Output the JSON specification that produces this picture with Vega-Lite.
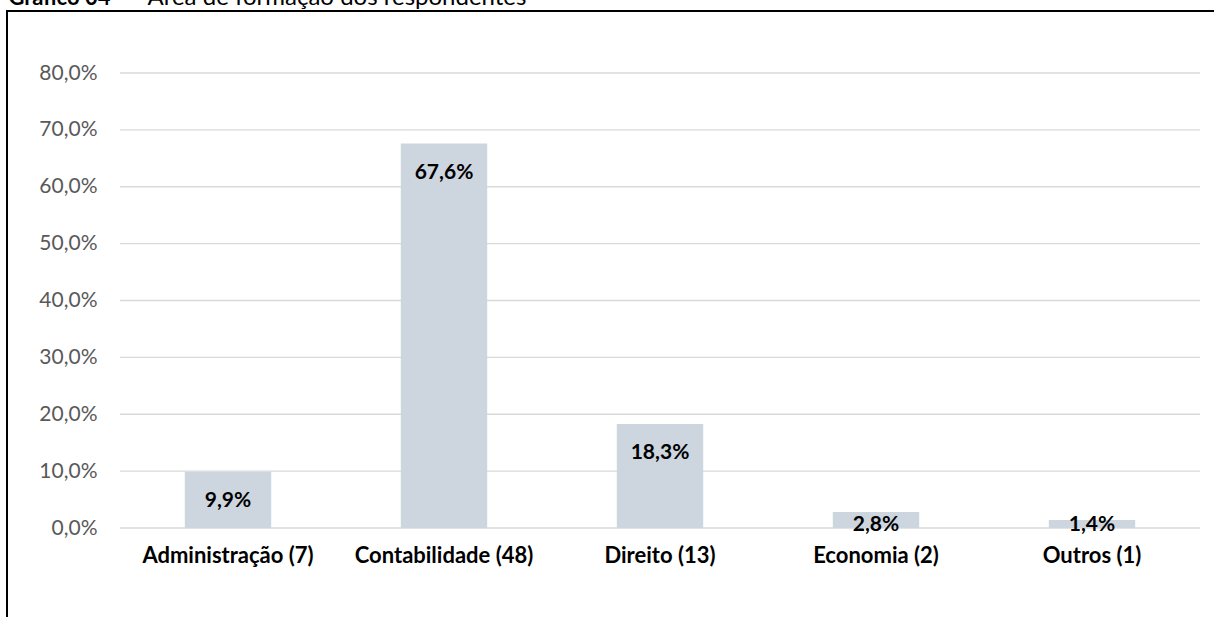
{
  "$schema": "https://vega.github.io/schema/vega-lite/v6.json",
  "autosize": {"type": "none"},
  "padding": {"left": 7, "top": 11, "right": 0, "bottom": 0},
  "width": 1220,
  "height": 620,
  "background": "white",
  "data": {
    "values": [
      {"area": "Administração (7)", "pct": 0.099},
      {"area": "Contabilidade (48)", "pct": 0.676},
      {"area": "Direito (13)", "pct": 0.183},
      {"area": "Economia (2)", "pct": 0.028},
      {"area": "Outros (1)", "pct": 0.014}
    ]
  },
  "layer": [
    {
      "data": {"values": [{"g": 0}, {"g": 0.1}, {"g": 0.2}, {"g": 0.3}, {"g": 0.4}, {"g": 0.5}, {"g": 0.6}, {"g": 0.7}, {"g": 0.8}]},
      "mark": {"type": "rule", "color": "#D9D9D9", "strokeWidth": 1.3},
      "encoding": {
        "y": {
          "field": "g",
          "type": "quantitative",
          "scale": {"domain": [0, 0.8], "range": [517, 62], "nice": false, "zero": true},
          "axis": {
            "orient": "left",
            "offset": -113,
            "title": "Gráfico 04 -",
            "titleAngle": 0,
            "titleX": -112,
            "titleY": -7,
            "titleAlign": "left",
            "titleAnchor": null,
            "titleBaseline": "alphabetic",
            "titleFont": "Lato",
            "titleFontSize": 22,
            "titleFontWeight": "bold",
            "titleColor": "black",
            "values": [0, 0.1, 0.2, 0.3, 0.4, 0.5, 0.6, 0.7, 0.8],
            "format": ".1%",
            "domain": false,
            "ticks": false,
            "grid": false,
            "labelPadding": 23,
            "labelFont": "Lato",
            "labelFontSize": 21,
            "labelColor": "#595959"
          }
        },
        "x": {
          "datum": 0,
          "type": "quantitative",
          "scale": {"domain": [0, 1], "range": [113, 1193]},
          "axis": {
            "orient": "top",
            "labels": false,
            "ticks": false,
            "domain": false,
            "grid": false,
            "title": "Área de formação dos respondentes",
            "titleX": 140,
            "titleY": -7,
            "titleAnchor": "start",
            "titleAlign": "left",
            "titleBaseline": "alphabetic",
            "titleFont": "Lato",
            "titleFontSize": 24,
            "titleFontWeight": "normal",
            "titleColor": "black"
          }
        },
        "x2": {"datum": 1}
      }
    },
    {
      "encoding": {
        "x": {
          "field": "area",
          "type": "nominal",
          "sort": null,
          "scale": {"range": [113, 1193], "paddingInner": 0.6, "paddingOuter": 0.3},
          "axis": {
            "orient": "bottom",
            "offset": -103,
            "title": null,
            "labelAngle": 0,
            "domain": false,
            "ticks": false,
            "labelPadding": 27,
            "labelBaseline": "middle",
            "labelFont": "Lato",
            "labelFontSize": 22,
            "labelFontWeight": "bold",
            "labelColor": "black",
            "labelLimit": 0
          }
        }
      },
      "layer": [
        {
          "mark": {"type": "bar", "color": "#CDD5DF"},
          "encoding": {
            "y": {"field": "pct", "type": "quantitative"}
          }
        },
        {
          "transform": [{"calculate": "max(datum.pct, 0.056)", "as": "labelPos"}],
          "mark": {"type": "text", "font": "Lato", "fontSize": 21, "fontWeight": "bold", "color": "black", "baseline": "middle", "dy": 29},
          "encoding": {
            "y": {"field": "labelPos", "type": "quantitative"},
            "text": {"field": "pct", "type": "quantitative", "format": ".1%"}
          }
        }
      ]
    }
  ],
  "resolve": {"scale": {"x": "independent"}},
  "config": {
    "locale": {"number": {"decimal": ",", "thousands": ".", "grouping": [3], "currency": ["R$", ""]}},
    "view": {"stroke": "black", "strokeWidth": 2}
  }
}
